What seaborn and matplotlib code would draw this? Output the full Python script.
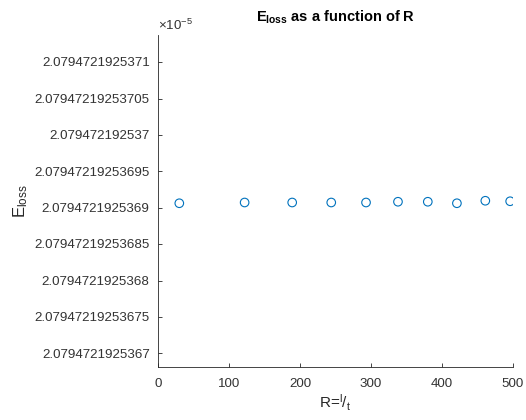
import matplotlib
matplotlib.use("Agg")
import matplotlib.pyplot as plt
import seaborn as sns
import pandas as pd
from matplotlib.ticker import FixedLocator, FixedFormatter

# Data (E_loss shown in units of 1e-5)
R_values = [30, 122, 189, 244, 293, 338, 380, 421, 461, 496]
E_loss_scaled = [2.07947219253690590, 2.07947219253690680, 2.07947219253690680,
                 2.07947219253690680, 2.07947219253690680, 2.07947219253690820,
                 2.07947219253690820, 2.07947219253690590, 2.07947219253690960,
                 2.07947219253690860]
y_tick_labels = ["2.0794721925367", "2.07947219253675", "2.0794721925368",
                 "2.07947219253685", "2.0794721925369", "2.07947219253695",
                 "2.079472192537", "2.07947219253705", "2.0794721925371"]
x_ticks = [0, 100, 200, 300, 400, 500]

sns.set_style("white")
plt.rcParams['font.family'] = ['Liberation Sans', 'DejaVu Sans']
plt.rcParams['mathtext.fontset'] = 'custom'
plt.rcParams['mathtext.rm'] = 'Liberation Sans'
plt.rcParams['mathtext.it'] = 'Liberation Sans'
plt.rcParams['mathtext.bf'] = 'Liberation Sans:bold'

df = pd.DataFrame({"R": R_values, "E": E_loss_scaled})

fig = plt.figure(figsize=(5.26, 4.2), dpi=100)
ax = fig.add_axes([158/526, 53/420, 355/526, 332/420])

sns.scatterplot(data=df, x="R", y="E", ax=ax, marker="o", s=38,
                facecolors="none", edgecolor="#0072BD", linewidth=0.8)

ax.set_xlim(0, 500)
yt = [float(s) for s in y_tick_labels]
step = yt[1] - yt[0]
ax.set_ylim(yt[0] - step * 0.38, yt[-1] + step * 0.74)
ax.yaxis.set_major_locator(FixedLocator(yt))
ax.yaxis.set_major_formatter(FixedFormatter(y_tick_labels))
ax.set_xticks(x_ticks)
ax.set_xticklabels([str(v) for v in x_ticks])

ax.tick_params(axis="both", direction="in", length=3, width=0.6,
               colors="#262626", labelsize=9.6, labelcolor="#333333",
               left=True, bottom=True)
ax.tick_params(axis="y", pad=6)
ax.tick_params(axis="x", pad=8)
for side in ["top", "right"]:
    ax.spines[side].set_visible(False)
for side in ["left", "bottom"]:
    ax.spines[side].set_color("#262626")
    ax.spines[side].set_linewidth(0.6)

ax.set_xlabel(r"R=$^{l}/_{t}$", fontsize=11, color="#262626", labelpad=2)
ax.set_ylabel(r"E$_{loss}$", fontsize=12, color="#262626", labelpad=3)
ax.set_title(r"$\mathbf{E_{loss}}$ as a function of R", fontsize=10.5,
             fontweight="bold", color="black", pad=10)
ax.text(0.0, 1.005, r"$\times10^{-5}$", transform=ax.transAxes, fontsize=9.6,
        color="#333333", ha="left", va="bottom")

fig.savefig("out.png", dpi=100)
